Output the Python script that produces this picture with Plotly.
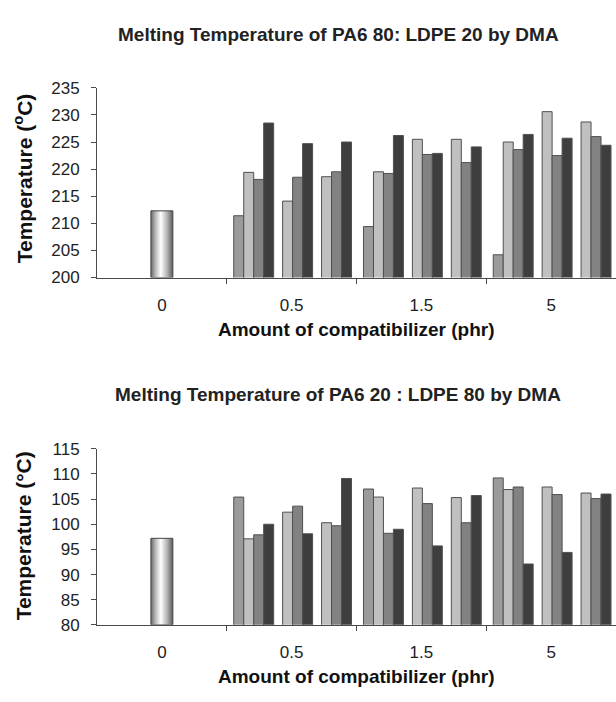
import plotly.graph_objects as go

# ---------------- data ----------------
categories = ["0", "0.5", "1.5", "5"]

top_title = "Melting Temperature of PA6 80: LDPE 20 by DMA"
bot_title = "Melting Temperature of PA6 20 : LDPE 80 by DMA"

top_zero = 212.3
bot_zero = 97.2

# values for categories 0.5, 1.5, 5  (group g, bar b)
top_g1_b1 = [211.4, 209.4, 204.2]
top_g1_b2 = [219.4, 219.5, 225.0]
top_g1_b3 = [218.1, 219.2, 223.6]
top_g1_b4 = [228.5, 226.2, 226.4]
top_g2_b2 = [214.1, 225.5, 230.6]
top_g2_b3 = [218.5, 222.7, 222.5]
top_g2_b4 = [224.7, 222.9, 225.7]
top_g3_b2 = [218.6, 225.5, 228.7]
top_g3_b3 = [219.5, 221.2, 226.0]
top_g3_b4 = [225.0, 224.1, 224.4]

bot_g1_b1 = [105.4, 107.0, 109.2]
bot_g1_b2 = [97.1, 105.4, 106.9]
bot_g1_b3 = [97.9, 98.2, 107.4]
bot_g1_b4 = [100.0, 99.0, 92.1]
bot_g2_b2 = [102.4, 107.2, 107.4]
bot_g2_b3 = [103.6, 104.1, 105.9]
bot_g2_b4 = [98.1, 95.7, 94.4]
bot_g3_b2 = [100.3, 105.3, 106.2]
bot_g3_b3 = [99.7, 100.3, 105.1]
bot_g3_b4 = [109.1, 105.7, 106.0]

top_range = [200, 235]
bot_range = [80, 115]
top_ticks = [200, 205, 210, 215, 220, 225, 230, 235]
bot_ticks = [80, 85, 90, 95, 100, 105, 110, 115]

# ---------------- style ----------------
COL = {"b1": "#9b9b9b", "b2": "#c0c0c0", "b3": "#828282", "b4": "#3e3e3e"}
EDGE = "#505050"
FONT = "Liberation Sans, Arial, sans-serif"
CAT_PX = 130.0          # pixels per category
BAR_W = 10.0 / CAT_PX   # bar width in axis units
# bar centre offsets (px from category start)
OFF = {
    ("g1", "b1"): 12, ("g1", "b2"): 22, ("g1", "b3"): 32, ("g1", "b4"): 42,
    ("g2", "b2"): 61, ("g2", "b3"): 71, ("g2", "b4"): 81,
    ("g3", "b2"): 100, ("g3", "b3"): 110, ("g3", "b4"): 120,
}
ZERO_W = 22.0 / CAT_PX

W, H = 616, 702
fig = go.Figure()

top_series = {
    ("g1", "b1"): top_g1_b1, ("g1", "b2"): top_g1_b2, ("g1", "b3"): top_g1_b3, ("g1", "b4"): top_g1_b4,
    ("g2", "b2"): top_g2_b2, ("g2", "b3"): top_g2_b3, ("g2", "b4"): top_g2_b4,
    ("g3", "b2"): top_g3_b2, ("g3", "b3"): top_g3_b3, ("g3", "b4"): top_g3_b4,
}
bot_series = {
    ("g1", "b1"): bot_g1_b1, ("g1", "b2"): bot_g1_b2, ("g1", "b3"): bot_g1_b3, ("g1", "b4"): bot_g1_b4,
    ("g2", "b2"): bot_g2_b2, ("g2", "b3"): bot_g2_b3, ("g2", "b4"): bot_g2_b4,
    ("g3", "b2"): bot_g3_b2, ("g3", "b3"): bot_g3_b3, ("g3", "b4"): bot_g3_b4,
}


def add_panel(series, zero_val, yrange, xa, ya):
    # gradient "cylinder" bar for 0 phr
    xc = 0.5
    x0, x1 = xc - ZERO_W / 2, xc + ZERO_W / 2
    fig.add_trace(go.Scatter(
        x=[x0, x1, x1, x0, x0], y=[yrange[0], yrange[0], zero_val, zero_val, yrange[0]],
        mode="lines", fill="toself",
        fillgradient=dict(type="horizontal",
                          colorscale=[[0, "#6a6a6a"], [0.2, "#b5b5b5"], [0.45, "#ffffff"],
                                      [0.75, "#b0b0b0"], [1, "#5a5a5a"]]),
        line=dict(color="#444444", width=1),
        xaxis=xa, yaxis=ya, showlegend=False, hoverinfo="skip"))
    for (g, b), vals in series.items():
        xs = [ci + 1 + OFF[(g, b)] / CAT_PX for ci in range(len(vals))]
        fig.add_trace(go.Bar(
            x=xs, y=vals, width=BAR_W,
            marker=dict(color=COL[b], line=dict(color=EDGE, width=1)),
            xaxis=xa, yaxis=ya, showlegend=False))


add_panel(top_series, top_zero, top_range, "x", "y")
add_panel(bot_series, bot_zero, bot_range, "x2", "y2")

x_left = 97 / W
top_dom = [1 - 276 / H, 1 - 81 / H]
bot_dom = [1 - 633 / H, 1 - 452 / H]

xaxis_common = dict(
    range=[0, 4], tickmode="array", tickvals=[0.5, 1.5, 2.5, 3.5], ticktext=categories,
    ticks="outside", ticklen=0, showline=True, linecolor="#4a4a4a", linewidth=1,
    showgrid=False, zeroline=False, fixedrange=True, ticklabelstandoff=12,
    tickfont=dict(family=FONT, size=17, color="#222222"),
    minor=dict(tickmode="array", tickvals=[1, 2, 3], ticks="outside", ticklen=5,
               tickcolor="#4a4a4a", tickwidth=1, showgrid=False),
)
yaxis_common = dict(
    ticks="outside", ticklen=5, tickcolor="#4a4a4a", showline=True, linecolor="#4a4a4a",
    linewidth=1, showgrid=False, zeroline=False, ticklabelstandoff=8,
    tickfont=dict(family=FONT, size=17, color="#222222"),
)

fig.update_layout(
    width=W, height=H, margin=dict(l=0, r=0, t=0, b=0),
    paper_bgcolor="white", plot_bgcolor="white", barmode="overlay",
    xaxis=dict(domain=[x_left, 1], anchor="y", **xaxis_common),
    yaxis=dict(domain=top_dom, anchor="x", range=top_range, tickvals=top_ticks, **yaxis_common),
    xaxis2=dict(domain=[x_left, 1], anchor="y2", **xaxis_common),
    yaxis2=dict(domain=bot_dom, anchor="x2", range=bot_range, tickvals=bot_ticks, **yaxis_common),
)

ann_font_t = dict(family=FONT, size=19, color="#222222")
ann_font_a = dict(family=FONT, size=19, color="#111111")
fig.add_annotation(text="<b>" + top_title + "</b>", x=338 / W, y=1 - 26 / H, xref="paper", yref="paper",
                   showarrow=False, font=ann_font_t, xanchor="center", yanchor="middle")
fig.add_annotation(text="<b>" + bot_title + "</b>", x=338 / W, y=1 - 396 / H, xref="paper", yref="paper",
                   showarrow=False, font=ann_font_t, xanchor="center", yanchor="middle")
fig.add_annotation(text="<b>Amount of compatibilizer (phr)</b>", x=356 / W, y=1 - 329 / H,
                   xref="paper", yref="paper", showarrow=False, font=ann_font_a,
                   xanchor="center", yanchor="middle")
fig.add_annotation(text="<b>Amount of compatibilizer (phr)</b>", x=356 / W, y=1 - 686 / H,
                   xref="paper", yref="paper", showarrow=False, font=ann_font_a,
                   xanchor="center", yanchor="middle")
fig.add_annotation(text="<b>Temperature (<sup>o</sup>C)</b>", x=23 / W, y=1 - 174 / H,
                   xref="paper", yref="paper", showarrow=False, textangle=-90,
                   font=dict(family=FONT, size=21, color="#111111"), xanchor="center", yanchor="middle")
fig.add_annotation(text="<b>Temperature (°C)</b>", x=23 / W, y=1 - 542 / H,
                   xref="paper", yref="paper", showarrow=False, textangle=-90,
                   font=dict(family=FONT, size=21, color="#111111"), xanchor="center", yanchor="middle")

fig.write_html("out.html")
